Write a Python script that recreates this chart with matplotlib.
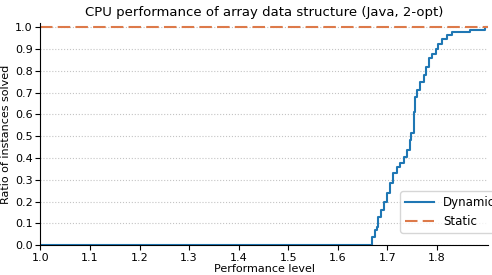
import numpy as np
import matplotlib
matplotlib.use("Agg")
from matplotlib import pyplot as plt

# performance profile (step curve)
dyn_x = [1.0, 1.665, 1.669, 1.675, 1.680, 1.682, 1.687, 1.694, 1.699, 1.706,
         1.712, 1.719, 1.726, 1.733, 1.739, 1.745, 1.747, 1.753, 1.756, 1.760,
         1.766, 1.773, 1.777, 1.783, 1.790, 1.797, 1.803, 1.810, 1.820, 1.830,
         1.867, 1.897, 1.905]
dyn_y = [0.0, 0.0, 0.038, 0.069, 0.084, 0.127, 0.161, 0.199, 0.238, 0.284,
         0.330, 0.360, 0.375, 0.406, 0.436, 0.482, 0.513, 0.612, 0.681, 0.712,
         0.750, 0.781, 0.819, 0.858, 0.880, 0.903, 0.926, 0.949, 0.965, 0.980,
         0.987, 1.0, 1.0]
static_x = [1.0, 1.905]
static_y = [1.0, 1.0]

fig = plt.figure(figsize=(4.92, 2.75), dpi=100)
ax = fig.add_axes([0.082, 0.109, 0.91, 0.807])

ax.plot(dyn_x, dyn_y, drawstyle="steps-post", color="#1f77b4", lw=1.5,
        label="Dynamic")
ax.plot(static_x, static_y, color="#dd7a4a", lw=1.5, dashes=(6, 2.5),
        label="Static")

ax.set_xlim(1.0, 1.903)
ax.set_ylim(0, 1.02)
ax.set_xticks(np.arange(1.0, 1.85, 0.1))
ax.set_yticks(np.arange(0, 1.01, 0.1))
ax.tick_params(labelsize=8, pad=2)
ax.grid(axis="y", linestyle=":", color="#c4c4c4", lw=0.8)
ax.spines["top"].set_visible(False)
ax.spines["right"].set_visible(False)

ax.set_title("CPU performance of array data structure (Java, 2-opt)",
             fontsize=9.5, pad=5)
ax.set_xlabel("Performance level", fontsize=8, labelpad=1)
ax.set_ylabel("Ratio of instances solved", fontsize=8, labelpad=3)

ax.legend(loc="lower left", bbox_to_anchor=(0.802, 0.133),
          bbox_transform=fig.transFigure, fontsize=8.5, handlelength=2.4)

fig.savefig("out.png", dpi=100)
